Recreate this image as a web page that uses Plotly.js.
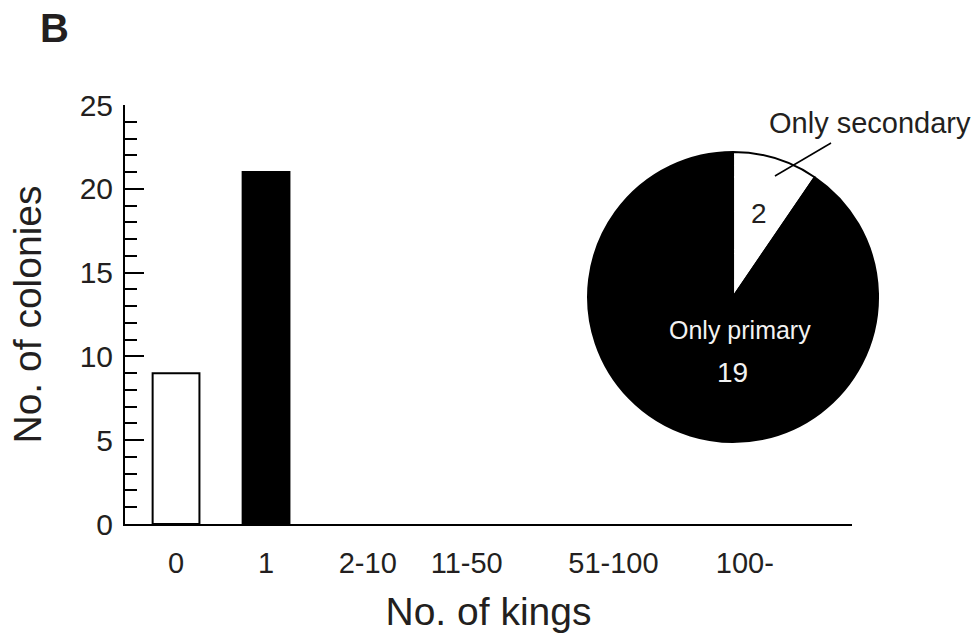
<!DOCTYPE html>
<html>
<head>
<meta charset="utf-8">
<script src="https://cdn.plot.ly/plotly-3.0.1.min.js"></script>
<style>html,body{margin:0;padding:0;background:#fff;}#chart{width:979px;height:635px;}</style>
</head>
<body>
<div id="chart"></div>
<script>
// ---- data ----
const categories = ['0', '1', '2-10', '11-50', '51-100', '100-'];
const colonies = [9, 21, 0, 0, 0, 0];
const pieLabels = ['Only secondary', 'Only primary'];
const pieValues = [2, 19];
const yTicks = [0, 5, 10, 15, 20, 25];

// ---- styles ----
const ink = '#231f20';
const font = 'Liberation Sans, Arial, Helvetica, sans-serif';
const barFill = ['#ffffff', '#000000', '#ffffff', '#ffffff', '#ffffff', '#ffffff'];
const barLine = [2, 2, 0, 0, 0, 0];
// label placement along the category axis (the original spaces its labels unevenly)
const labelPos = [0, 1, 2.13, 3.23, 4.86, 6.32];
const xIdx = categories.map((c, i) => i);

const bar = {
  type: 'bar',
  x: xIdx,
  y: colonies,
  width: 0.52,
  marker: {color: barFill, line: {color: '#000', width: barLine}},
  hoverinfo: 'skip'
};

const pie = {
  type: 'pie',
  labels: pieLabels,
  values: pieValues,
  sort: false,
  direction: 'clockwise',
  rotation: 0,
  textinfo: 'none',
  marker: {colors: ['#ffffff', '#000000'], line: {color: '#000', width: 2}},
  domain: {x: [0.5669, 0.9252], y: [0.1957, 0.8878]},
  hoverinfo: 'skip'
};

function note(x, y, text, size, color, bold) {
  return {xref: 'paper', yref: 'paper', x: x, y: y, xanchor: 'center', yanchor: 'middle',
          text: bold ? '<b>' + text + '</b>' : text, showarrow: false,
          font: {size: size, color: color, family: font}};
}

const layout = {
  width: 979, height: 635,
  margin: {l: 125, r: 39, t: 105, b: 111},
  paper_bgcolor: '#fff', plot_bgcolor: '#fff',
  showlegend: false,
  hovermode: false,
  font: {family: font, color: ink},
  xaxis: {
    domain: [0, 0.892],
    range: [-0.567, 7.51],
    tickmode: 'array',
    tickvals: labelPos,
    ticktext: categories,
    ticks: '',
    showgrid: false, zeroline: false,
    showline: true, linecolor: '#000', linewidth: 2,
    tickfont: {size: 29, color: ink, family: font},
    ticklabelstandoff: 12,
    title: {text: 'No. of kings', font: {size: 39, color: ink, family: font}, standoff: 20}
  },
  yaxis: {
    range: [0, 25],
    tickmode: 'array',
    tickvals: yTicks,
    ticks: 'inside', ticklen: 19, tickwidth: 2, tickcolor: '#000',
    minor: {dtick: 1, ticks: 'inside', ticklen: 12, tickwidth: 2, tickcolor: '#000', showgrid: false},
    showgrid: false, zeroline: false,
    showline: true, linecolor: '#000', linewidth: 2,
    tickfont: {size: 30, color: ink, family: font},
    ticklabelstandoff: 4,
    title: {text: 'No. of colonies', font: {size: 39, color: ink, family: font}, standoff: 26}
  },
  shapes: [
    {type: 'line', xref: 'paper', yref: 'paper', x0: 0.7975, y0: 0.8305, x1: 0.8663, y1: 0.9093,
     line: {color: '#000', width: 1.5}}
  ],
  annotations: [
    note(-0.0859, 1.1838, 'B', 40, ink, true),
    note(0.9141, 0.957, pieLabels[0], 29, ink),
    note(0.7779, 0.7422, String(pieValues[0]), 28, ink),
    note(0.7546, 0.463, pieLabels[1], 25, '#f2f2f2'),
    note(0.7448, 0.3604, String(pieValues[1]), 28, '#f2f2f2')
  ]
};

Plotly.newPlot('chart', [bar, pie], layout, {staticPlot: true, displayModeBar: false});
</script>
</body>
</html>
